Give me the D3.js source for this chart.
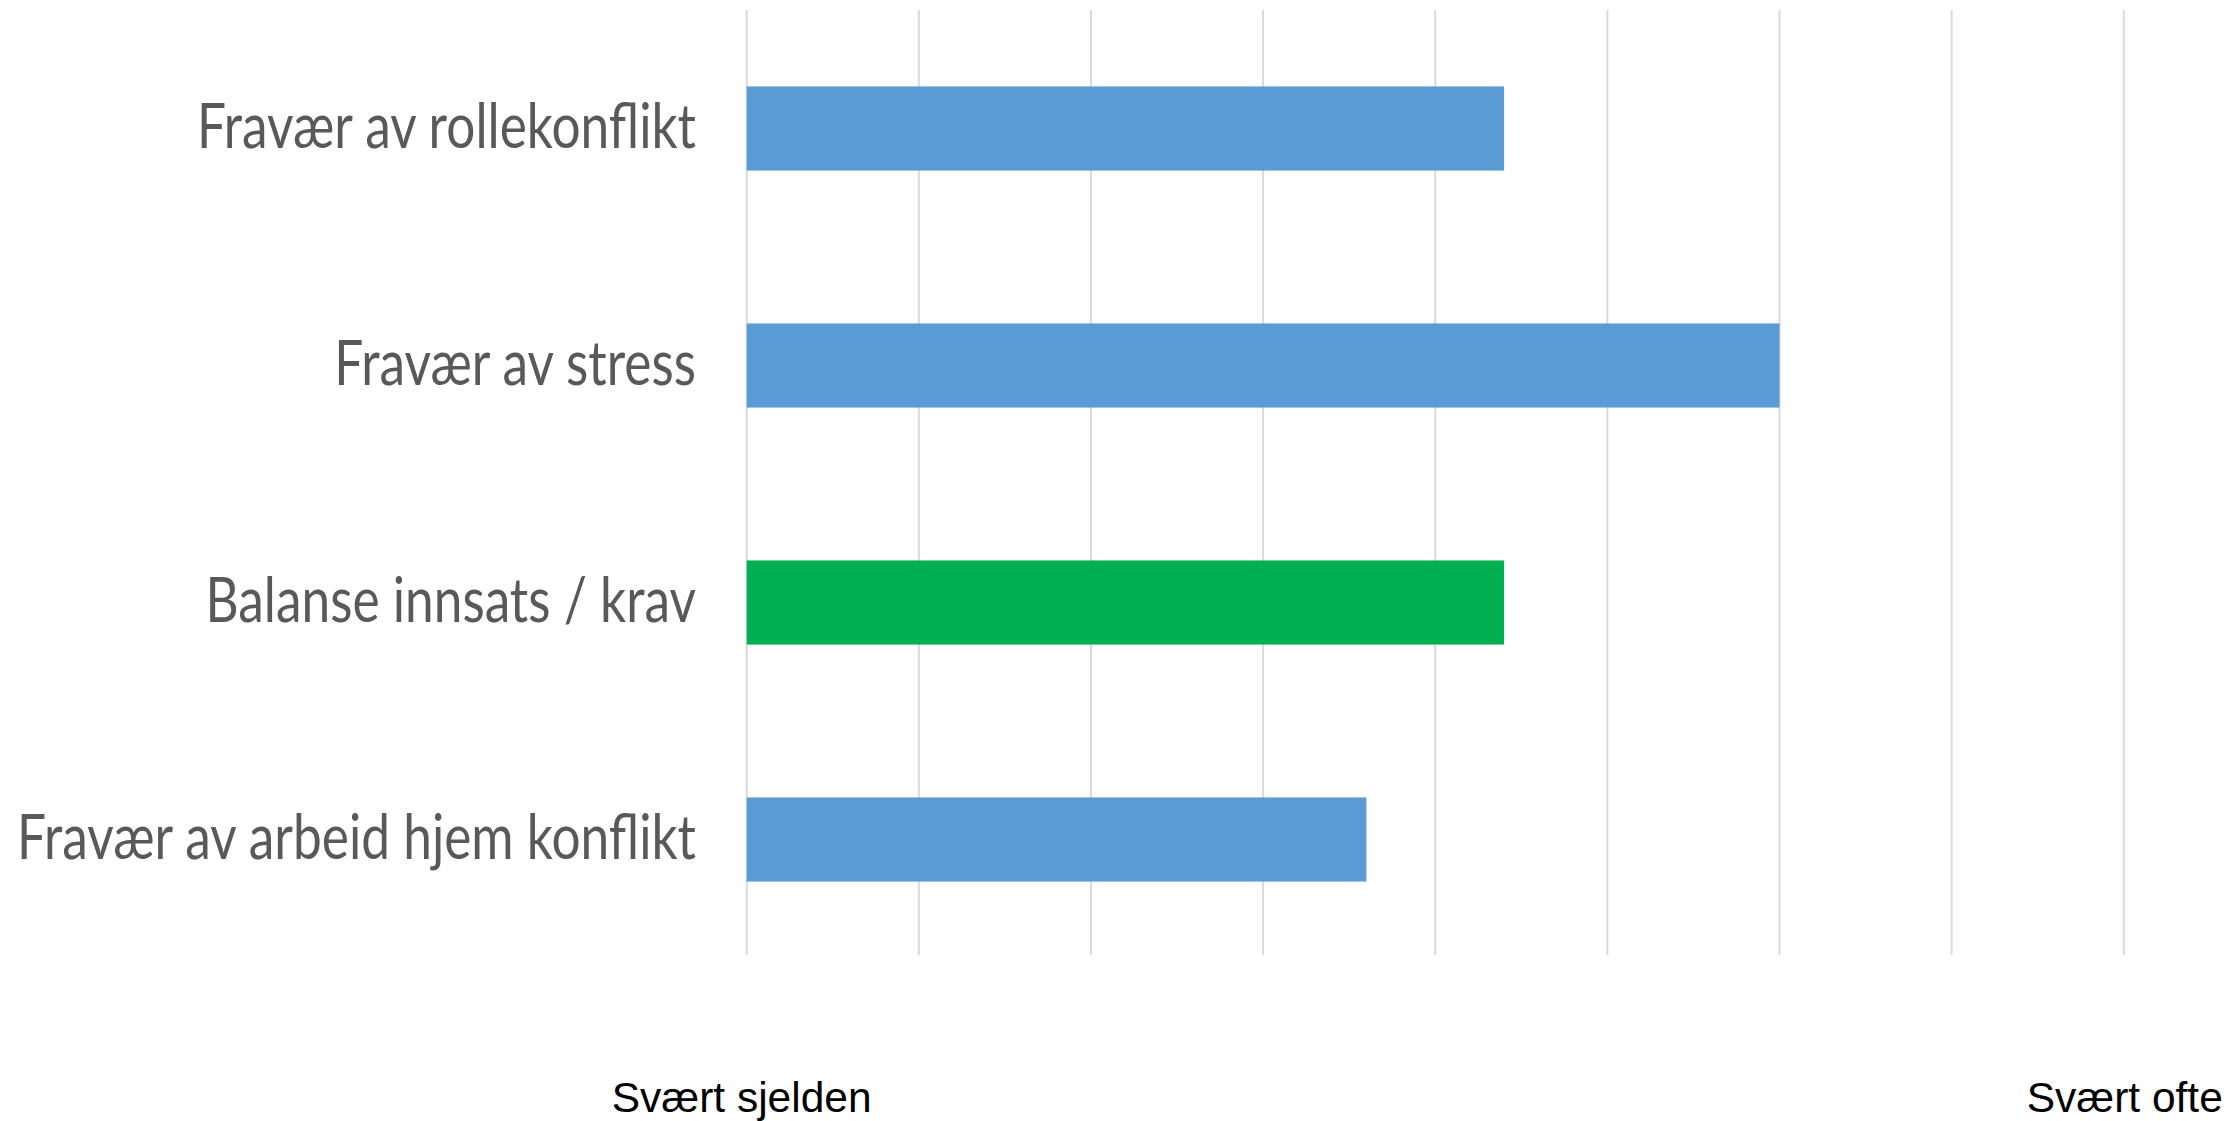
<!DOCTYPE html>
<html>
<head>
<meta charset="utf-8">
<script src="https://cdn.jsdelivr.net/npm/d3@7"></script>
<style>
  html, body { margin: 0; padding: 0; background: #ffffff; }
  svg { display: block; }
</style>
</head>
<body>
<script>
// Categories (top to bottom) and their scores on the 0–8 frequency scale
const categories = [
  "Fravær av rollekonflikt",
  "Fravær av stress",
  "Balanse innsats / krav",
  "Fravær av arbeid hjem konflikt"
];
const values = [4.4, 6.0, 4.4, 3.6];
const highlighted = [false, false, true, false];

// Scale ends and the words shown under them
const scaleTicks = [0, 1, 2, 3, 4, 5, 6, 7, 8];
const endLabels = ["Svært sjelden", "Svært ofte"];

const W = 2226, H = 1121;
const plot = { left: 746.7, right: 2123.8, top: 10, bottom: 958 };

const svg = d3.select("body").append("svg")
  .attr("width", W).attr("height", H);

const x = d3.scaleLinear()
  .domain([scaleTicks[0], scaleTicks[scaleTicks.length - 1]])
  .range([plot.left, plot.right]);

const y = d3.scaleBand()
  .domain(categories)
  .range([plot.top, plot.bottom])
  .paddingInner(0.645)
  .paddingOuter(0.3225);

// Vertical gridlines
svg.append("g")
  .selectAll("line")
  .data(scaleTicks)
  .join("line")
  .attr("x1", d => x(d)).attr("x2", d => x(d))
  .attr("y1", plot.top).attr("y2", 955)
  .attr("stroke", "#d9d9d9")
  .attr("stroke-width", 2);

// Bars
const rows = categories.map((c, i) => ({ c, v: values[i], hi: highlighted[i] }));
svg.append("g")
  .selectAll("rect")
  .data(rows)
  .join("rect")
  .attr("x", x(0))
  .attr("y", d => y(d.c))
  .attr("width", d => x(d.v) - x(0))
  .attr("height", y.bandwidth())
  .attr("fill", d => d.hi ? "#00b050" : "#5b9bd5");

// Category labels (condensed, right-aligned against the plot)
const labelRight = 696;
const labelSize = 62.8;
const capH = 0.7165 * labelSize;
const labelG = svg.append("g");
const labels = labelG.selectAll("text")
  .data(categories)
  .join("text")
  .attr("text-anchor", "end")
  .attr("font-family", "Lato, 'Open Sans', sans-serif")
  .attr("font-size", labelSize)
  .attr("fill", "#595959")
  .attr("x", 0)
  .attr("y", d => y(d) + y.bandwidth() / 2 + capH / 2 - 3)
  .text(d => d);

const longest = d3.max(labels.nodes(), n => n.getComputedTextLength());
const squeeze = 679 / longest;
labelG.attr("transform", `translate(${labelRight},0) scale(${squeeze},1)`);

// Scale end words under the first and last gridline
const ends = [scaleTicks[0], scaleTicks[scaleTicks.length - 1]];
const endShift = [-5, 1];
svg.append("g")
  .selectAll("text")
  .data(ends)
  .join("text")
  .attr("x", (d, i) => x(d) + endShift[i])
  .attr("y", 1112)
  .attr("text-anchor", "middle")
  .attr("font-family", "'Liberation Sans', Arial, sans-serif")
  .attr("font-size", 42.5)
  .attr("fill", "#000000")
  .text((d, i) => endLabels[i]);
</script>
</body>
</html>
